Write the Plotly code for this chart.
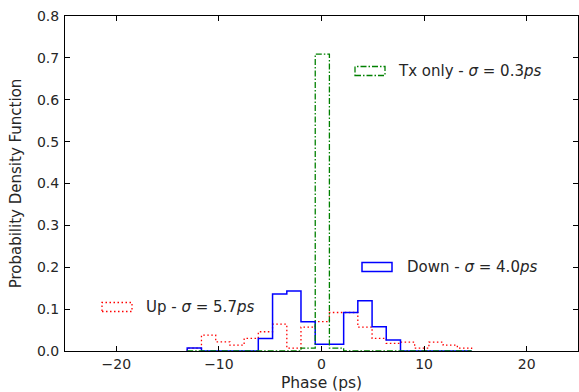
import plotly.graph_objects as go

# ---- data ----
bin_edges = [-13.09, -11.70, -10.31, -8.93, -7.54, -6.16, -4.77, -3.38, -2.00, -0.61,
             0.77, 2.16, 3.54, 4.93, 6.31, 7.70, 9.08, 10.47, 11.86, 13.24, 14.63]
up_density = [0.007, 0.038, 0.022, 0.014, 0.030, 0.046, 0.064, 0.007, 0.057, 0.070,
              0.092, 0.092, 0.057, 0.030, 0.018, 0.021, 0.007, 0.021, 0.014, 0.007]
down_density = [0.007, 0.0, 0.0, 0.0, 0.0, 0.030, 0.136, 0.143, 0.070, 0.016,
                0.016, 0.092, 0.120, 0.058, 0.026, 0.0, 0.0, 0.0, 0.0, 0.0]
tx_density = [0.0, 0.0, 0.0, 0.0, 0.0, 0.0, 0.0, 0.0, 0.007, 0.709,
              0.007, 0.0, 0.0, 0.0, 0.0, 0.0, 0.0, 0.0, 0.0, 0.0]
x_ticks = [-20, -10, 0, 10, 20]
y_ticks = [0.0, 0.1, 0.2, 0.3, 0.4, 0.5, 0.6, 0.7, 0.8]
series_names = ["Up", "Down", "Tx only"]
series_sigma = ["5.7", "4.0", "0.3"]

FONT = "DejaVu Sans"
TXT = "#262626"
W, H = 579, 392
L, R, T, B = 65, 1, 16, 41


def step_outline(edges, vals):
    xs, ys = [edges[0]], [0.0]
    for i, v in enumerate(vals):
        xs += [edges[i], edges[i + 1]]
        ys += [v, v]
    xs.append(edges[-1])
    ys.append(0.0)
    return xs, ys


styles = {
    "Up": dict(color="red", dash="1.5px,2.5px", width=1.3),
    "Down": dict(color="blue", dash="solid", width=1.5),
    "Tx only": dict(color="green", dash="6px,2px,1.5px,2px", width=1.3),
}

fig = go.Figure()
for name, vals in zip(series_names, [up_density, down_density, tx_density]):
    xs, ys = step_outline(bin_edges, vals)
    fig.add_trace(go.Scatter(x=xs, y=ys, mode="lines", name=name,
                             line=styles[name], showlegend=False,
                             hoverinfo="skip"))


def px2paper(px, py):
    return (px - L) / (W - L - R), (H - B - py) / (H - T - B)


legend_pos = {  # key rect left px, centre y px, text left px
    "Tx only": (355, 71, 396),
    "Down": (362, 267, 405),
    "Up": (102, 307, 144),
}
for name, sig in zip(series_names, series_sigma):
    lx, cy, tx = legend_pos[name]
    x0, y0 = px2paper(lx, cy + 4.5)
    x1, y1 = px2paper(lx + 30, cy - 4.5)
    fig.add_shape(type="rect", xref="paper", yref="paper", x0=x0, y0=y0, x1=x1, y1=y1,
                  line=dict(color=styles[name]["color"], dash=styles[name]["dash"],
                            width=styles[name]["width"]),
                  fillcolor="rgba(0,0,0,0)")
    ax, ay = px2paper(tx, cy)
    fig.add_annotation(xref="paper", yref="paper", x=ax, y=ay, xanchor="left",
                       yanchor="middle", showarrow=False,
                       text=f"{name} - <i>σ</i> = {sig}<i>ps</i>",
                       font=dict(family=FONT, size=15, color=TXT))

axis_common = dict(showline=True, linecolor="black", linewidth=1, mirror="ticks",
                   ticks="inside", ticklen=5, tickcolor="black", tickwidth=1,
                   showgrid=False, zeroline=False, automargin=False,
                   tickfont=dict(family=FONT, size=14, color=TXT))

fig.update_layout(
    width=W, height=H,
    margin=dict(l=L, r=R, t=T, b=B, pad=0),
    paper_bgcolor="white", plot_bgcolor="white",
    xaxis=dict(range=[-25, 25], tickvals=x_ticks,
               ticktext=[("\u2212" + str(-v)) if v < 0 else str(v) for v in x_ticks],
               title=dict(text="Phase (ps)", font=dict(family=FONT, size=15.5, color=TXT),
                          standoff=7),
               **axis_common),
    yaxis=dict(range=[0, 0.8], tickvals=y_ticks, tickformat=".1f",
               ticklabelstandoff=2,
               title=dict(text="Probability Density Function",
                          font=dict(family=FONT, size=15, color=TXT), standoff=11),
               **axis_common),
)

fig.write_html("out.html", post_script="document.body.style.margin='0';",
               config={"displayModeBar": False})
